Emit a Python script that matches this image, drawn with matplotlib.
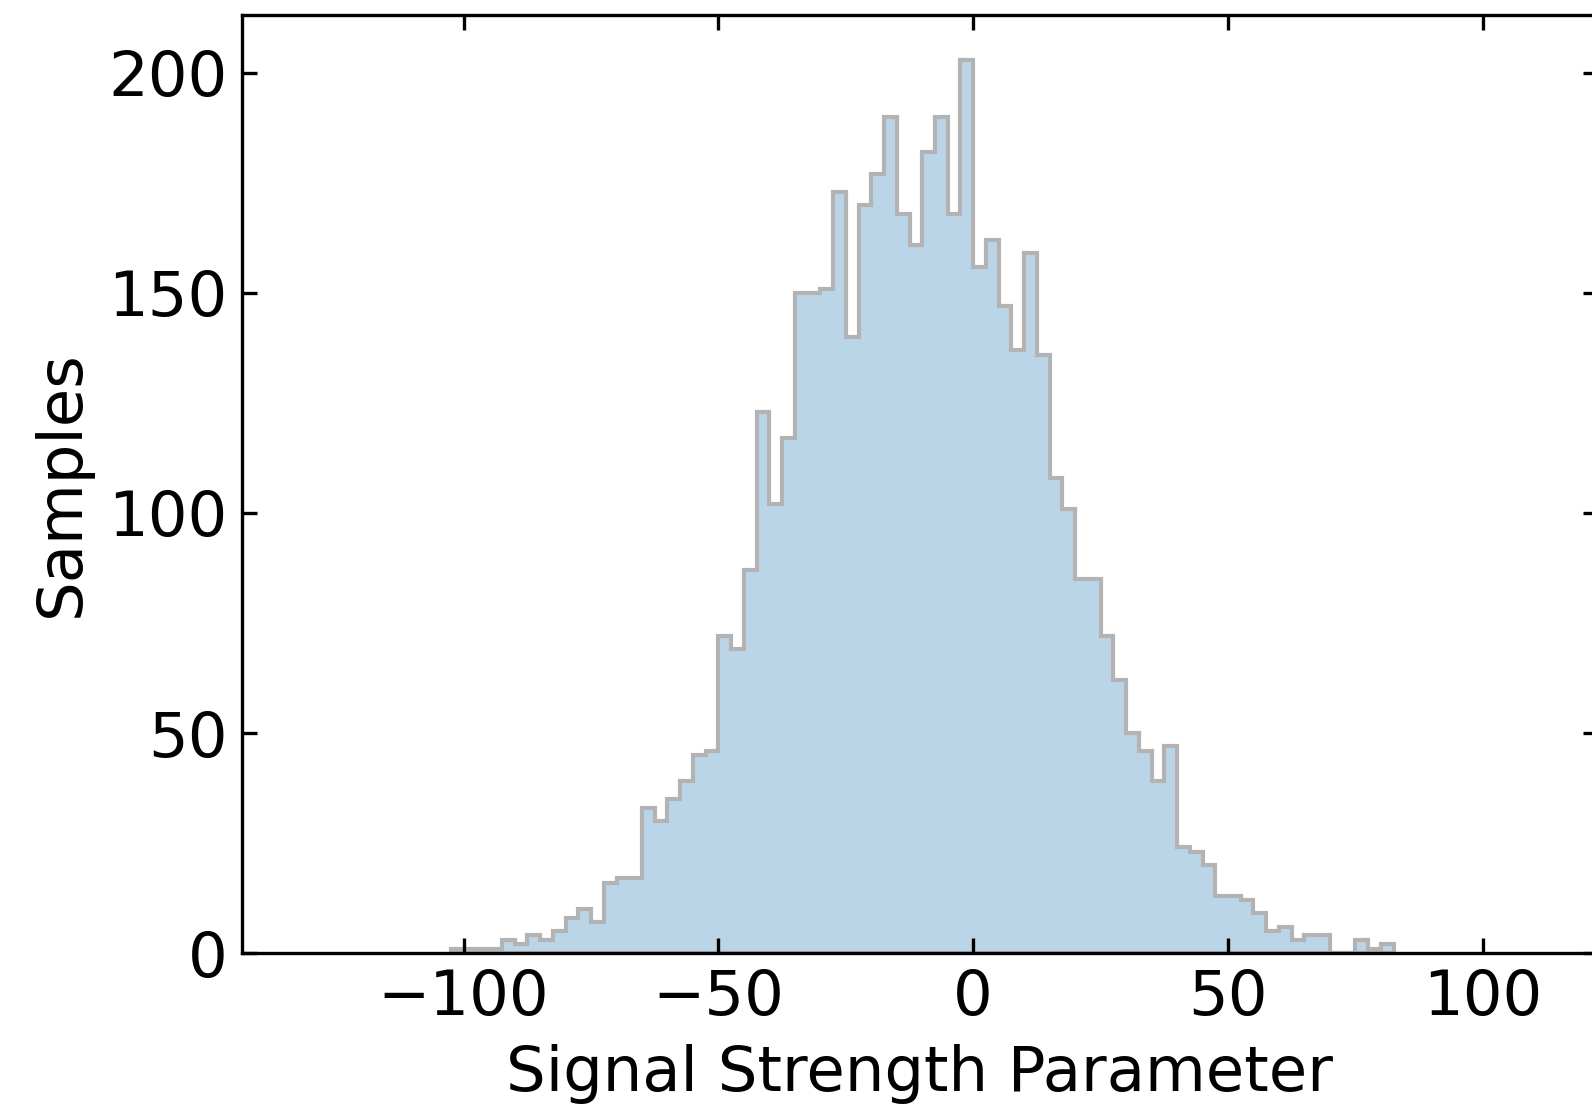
import numpy as np
import matplotlib
matplotlib.use("Agg")
import matplotlib.pyplot as plt
from matplotlib.colors import to_rgba

# histogram of the signal strength samples, 2.5-wide bins
bin_edges = np.arange(-102.5, 82.5 + 1e-9, 2.5)
counts = [
    1, 1, 1, 1, 3, 2, 4, 3, 5, 8,
    10, 7, 16, 17, 17, 33, 30, 35, 39, 45,
    46, 72, 69, 87, 123, 102, 117, 150, 150, 151,
    173, 140, 170, 177, 190, 168, 161, 182, 190, 168,
    203, 156, 162, 147, 137, 159, 136, 108, 101, 85,
    85, 72, 62, 50, 46, 39, 47, 24, 23, 20,
    13, 13, 12, 9, 5, 6, 3, 4, 4, 0,
    0, 3, 1, 2,
]
x_ticks = [-100, -50, 0, 50, 100]
y_ticks = [0, 50, 100, 150, 200]

fig = plt.figure(figsize=(1593 / 300, 1106 / 300), dpi=300)
ax = fig.add_axes([0.1519, 0.1383, 0.8512, 0.8481])

ax.hist(bin_edges[:-1], bins=bin_edges, weights=counts, histtype='stepfilled',
        facecolor=to_rgba('C0', 0.3), edgecolor='#b3b3b3', linewidth=1.0)

ax.set_xlim(-143.5, 122.6)
ax.set_ylim(0, 213.15)
ax.set_xticks(x_ticks)
ax.set_yticks(y_ticks)
ax.tick_params(direction='in', top=True, right=True, labelsize=15,
               length=3.6, width=0.8)
for side in ax.spines.values():
    side.set_linewidth(0.8)

ax.set_xlabel('Signal Strength Parameter', fontsize=15)
ax.set_ylabel('Samples', fontsize=15)

fig.savefig('out.png', dpi=300)
